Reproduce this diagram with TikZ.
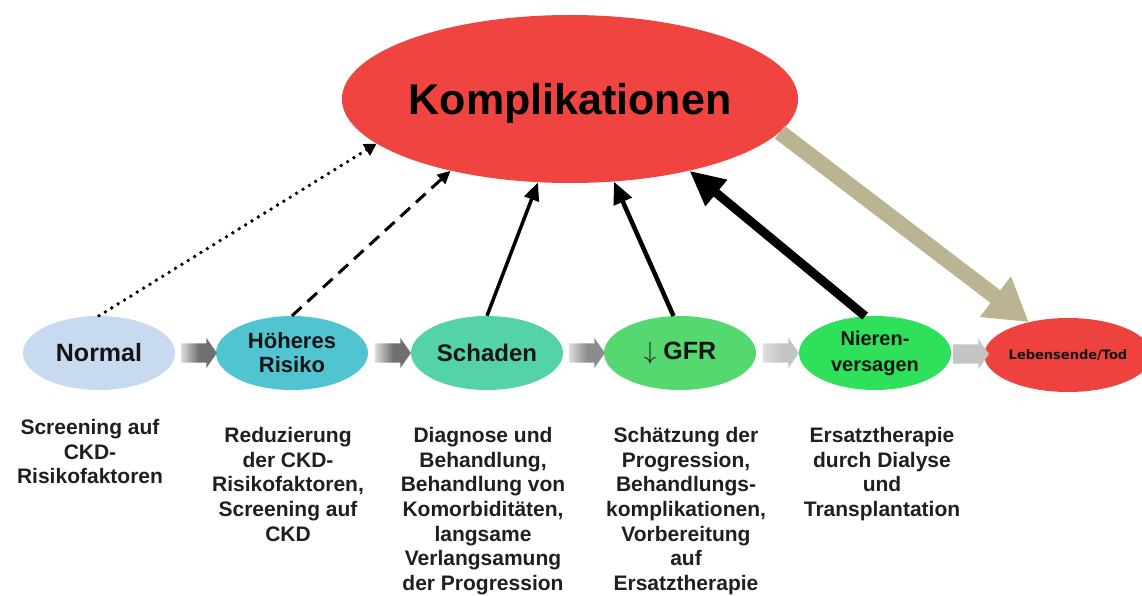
\documentclass[tikz,border=0pt]{standalone}
\usepackage{fontspec}
\setmainfont{Liberation Sans}
\newfontfamily\verdfont{DejaVu Sans}
\usetikzlibrary{shapes.geometric,shapes.arrows,arrows.meta,calc}

\definecolor{kompred}{RGB}{240,68,64}
\definecolor{normalblue}{RGB}{200,218,240}
\definecolor{risikocyan}{RGB}{80,196,208}
\definecolor{schadengreen}{RGB}{84,210,168}
\definecolor{gfrgreen}{RGB}{86,216,112}
\definecolor{nierengreen}{RGB}{46,224,90}
\definecolor{todred}{RGB}{238,66,62}
\definecolor{khaki}{RGB}{186,180,146}
\definecolor{darkflow}{RGB}{112,112,112}
\definecolor{midflow}{RGB}{140,140,140}
\definecolor{lightflow}{RGB}{196,196,196}
\definecolor{fadeflow}{RGB}{222,222,222}

\begin{document}
\begin{tikzpicture}[x=1pt,y=-1pt,
	stage/.style={ellipse, inner sep=0pt, minimum width=152pt, minimum height=74pt,
		align=center, text=black!92, font=\bfseries\fontsize{22}{24}\selectfont},
	note/.style={anchor=north, align=center, inner sep=0pt, text=black!88,
		font=\bfseries\fontsize{21}{24.7}\selectfont},
	flow/.style={single arrow, inner xsep=0pt, inner ysep=9.5pt, minimum height=36pt,
		single arrow head extend=5.5pt, single arrow tip angle=110}]
	
	\useasboundingbox (0,0) rectangle (1142,596);
	
	% the big one on top
	\node[ellipse, fill=kompred, inner sep=0pt, minimum width=450pt, minimum height=168pt,
		text depth=0pt, font=\bfseries\fontsize{43}{46}\selectfont] (komp) at (570, 99) {Komplikationen};
	
	% stages
	\node[stage, fill=normalblue, font=\bfseries\fontsize{25}{27}\selectfont] (normal) at (99, 353) {Normal};
	\node[stage, fill=risikocyan] (risiko) at (292, 353) {Höheres\\Risiko};
	\node[stage, fill=schadengreen, font=\bfseries\fontsize{24}{26}\selectfont] (schaden) at (487, 353) {Schaden};
	\node[stage, fill=gfrgreen, font=\bfseries\fontsize{25}{27}\selectfont] (gfr) at (680, 353) {$\downarrow$ GFR};
	\node[stage, fill=nierengreen, font=\bfseries\fontsize{20}{26}\selectfont] (nieren) at (875, 353) {Nieren-\\versagen};
	\node[stage, fill=todred, minimum width=150pt, font=\verdfont\bfseries\fontsize{13}{15}\selectfont] (tod) at (1068, 355) {Lebensende/Tod};
	
	% gray block arrows
	\node[flow, left color=fadeflow, right color=darkflow, middle color=darkflow] (f1) at ($(normal.east)!0.5!(risiko.west)$) {};
	\node[flow, left color=fadeflow, right color=darkflow, middle color=darkflow] (f2) at ($(risiko.east)!0.5!(schaden.west)$) {};
	\node[flow, left color=fadeflow, right color=midflow, middle color=midflow] (f3) at ($(schaden.east)!0.5!(gfr.west)$) {};
	\node[flow, left color=fadeflow, right color=lightflow, middle color=lightflow] (f4) at ($(gfr.east)!0.5!(nieren.west)$) {};
	\node[flow, fill=lightflow] (f5) at ($(nieren.east)!0.5!(tod.west)$) {};
	
	% arrows to Komplikationen
	\draw[line width=3.8pt, line cap=round, dash pattern=on 0pt off 7.5pt,
		-{Triangle[length=12pt,width=13pt]}] (normal.north) -- (komp.193);
	\draw[line width=3pt, dash pattern=on 13pt off 8pt,
		-{Triangle[length=13pt,width=12pt]}] (risiko.north) -- (komp.211);
	\draw[line width=3.5pt, -{Triangle[length=18pt,width=15pt]}] (schaden.north) -- (komp.249);
	\draw[line width=4.5pt, -{Triangle[length=22pt,width=19pt]}] (gfr.100) -- (komp.298);
	\draw[line width=9pt, -{Triangle[length=35pt,width=32pt]}] (nieren.105) -- (komp.329);
	\draw[khaki, line width=16pt, -{Triangle[length=42pt,width=48pt]}] (komp.351) -- (tod.140);
	
	% what to do at each stage
	\node[note] (normalnote) at (90, 419) {Screening auf\\CKD-\\Risikofaktoren};
	\node[note] (risikonote) at (288, 427) {Reduzierung\\der CKD-\\Risikofaktoren,\\Screening auf\\CKD};
	\node[note] (schadennote) at (483, 427) {Diagnose und\\Behandlung,\\Behandlung von\\Komorbiditäten,\\langsame\\Verlangsamung\\der Progression};
	\node[note] (gfrnote) at (686, 427) {Schätzung der\\Progression,\\Behandlungs-\\komplikationen,\\Vorbereitung\\auf\\Ersatztherapie};
	\node[note] (nierennote) at (882, 427) {Ersatztherapie\\durch Dialyse\\und\\Transplantation};
	
\end{tikzpicture}
\end{document}
